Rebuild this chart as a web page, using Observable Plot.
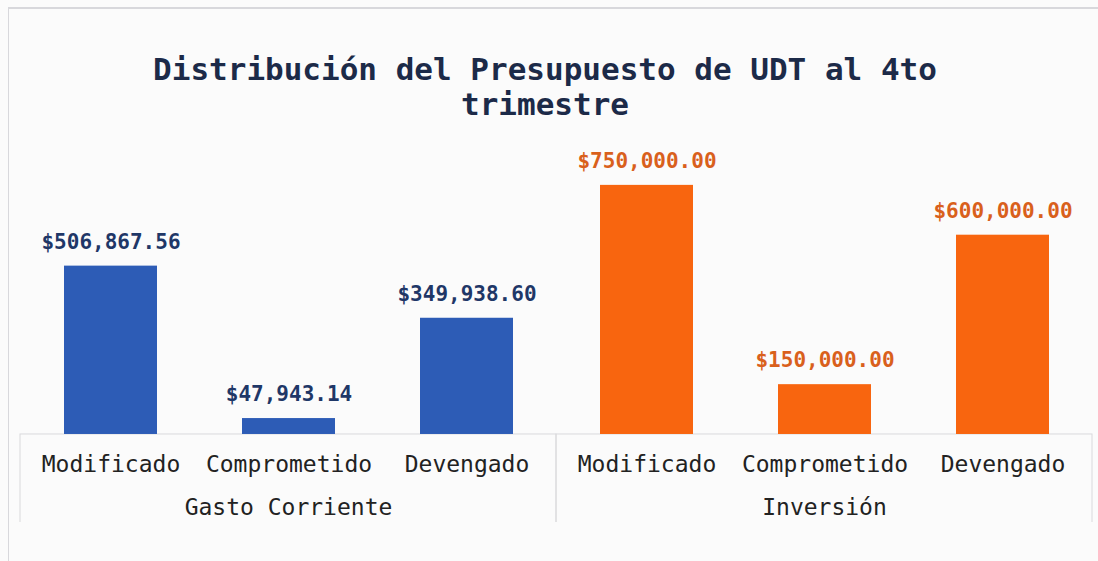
<!DOCTYPE html>
<html>
<head>
<meta charset="utf-8">
<script src="https://cdn.jsdelivr.net/npm/d3@7"></script>
<script src="https://cdn.jsdelivr.net/npm/@observablehq/plot@0.6"></script>
<style>
  html, body { margin: 0; padding: 0; background: #fbfbfb; width: 1098px; height: 561px; overflow: hidden; }
  #frame { position: absolute; left: 8px; top: 7px; width: 1200px; height: 700px; border-left: 1px solid #d8d8dc; border-top: 2px solid #d8d8dc; }
  #title { position: absolute; left: 0; top: 52px; width: 1090px; text-align: center;
           font-family: "DejaVu Sans Mono", monospace; font-weight: bold; font-size: 31px; line-height: 35px; color: #1c2a48; }
  #chart { position: absolute; left: 0; top: 140px; }
</style>
</head>
<body>
<div id="frame"></div>
<div id="title">Distribución del Presupuesto de UDT al 4to<br>trimestre</div>
<div id="chart"></div>
<script>
const groups = ["Gasto Corriente", "Inversión"];
const categories = ["Modificado", "Comprometido", "Devengado"];
const gastoCorrienteValues = [506867.56, 47943.14, 349938.60];
const inversionValues = [750000.00, 150000.00, 600000.00];
const barColors = ["#2d5cb6", "#f8650f"];
const labelColors = ["#1f3767", "#d9601c"];

const rows = [];
[gastoCorrienteValues, inversionValues].forEach((vals, gi) => {
  categories.forEach((c, ci) => rows.push({group: groups[gi], category: c, value: vals[ci]}));
});

const fmt = v => "$" + d3.format(",.2f")(v);
const labelColor = d => labelColors[groups.indexOf(d.group)];

const chart = Plot.plot({
  width: 1098,
  height: 382,
  marginTop: 10,
  marginBottom: 0,
  marginLeft: 19,
  marginRight: 6,
  style: {background: "transparent", fontFamily: "DejaVu Sans Mono, monospace"},
  fx: {domain: groups, padding: 0, axis: null},
  x: {domain: categories, paddingInner: 0.48, paddingOuter: 0.24, axis: null},
  y: {domain: [-265000, 855000], axis: null},
  color: {domain: groups, range: barColors},
  marks: [
    Plot.rect(groups, {fx: d => d, y1: () => 0, y2: () => -320000, fill: "none", stroke: "#d9d9dc", strokeWidth: 1}),
    Plot.barY(rows, {fx: "group", x: "category", y: "value", fill: "group"}),
    Plot.text(rows, {fx: "group", x: "category", y: "value", text: d => fmt(d.value), fill: labelColor,
                     dy: -24, lineAnchor: "middle", fontSize: 21, fontWeight: "bold"}),
    Plot.text(rows, {fx: "group", x: "category", text: "category", frameAnchor: "bottom", dy: -58,
                     lineAnchor: "middle", fontSize: 23, fill: "#222"}),
    Plot.text(groups, {fx: d => d, text: d => d, frameAnchor: "bottom", dy: -15,
                       lineAnchor: "middle", fontSize: 23, fill: "#222"})
  ]
});
document.getElementById("chart").appendChild(chart);
</script>
</body>
</html>
